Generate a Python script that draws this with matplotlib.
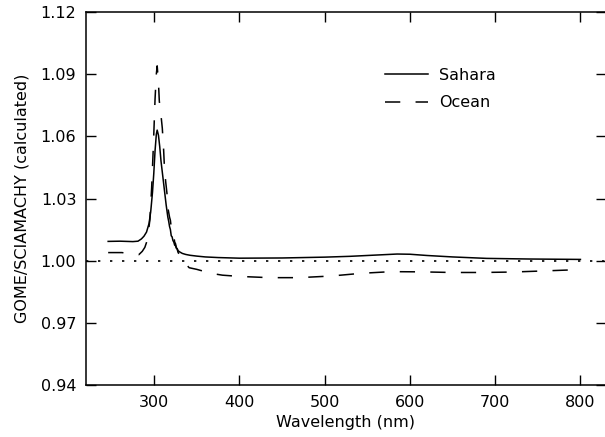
import matplotlib

matplotlib.use("Agg")
import matplotlib.pyplot as plt

# Sahara scene: GOME/SCIAMACHY ratio
sahara_wl = [246, 260, 275, 281, 285, 288, 291, 294, 296, 298, 299.5, 301, 302.5,
             303.5, 305, 306.5, 308, 310, 312, 314, 316, 317, 318, 319, 320, 321,
             322, 323, 324, 325, 326, 327, 328, 330, 333, 337, 342, 350, 360, 375,
             400, 450, 500, 530, 560, 585, 600, 620, 650, 690, 740, 800]
sahara_ratio = [1.0093, 1.0094, 1.0092, 1.0094, 1.0105, 1.0118, 1.0138, 1.0180,
                1.0240, 1.0330, 1.0420, 1.0530, 1.0610, 1.0630, 1.0605, 1.0550,
                1.0480, 1.0410, 1.0340, 1.0270, 1.0210, 1.0190, 1.0165, 1.0150,
                1.0120, 1.0115, 1.0097, 1.0090, 1.0075, 1.0072, 1.0060, 1.0058,
                1.0048, 1.0042, 1.0035, 1.0030, 1.0026, 1.0022, 1.0018, 1.0015,
                1.0012, 1.0013, 1.0017, 1.0021, 1.0027, 1.0032, 1.0031, 1.0025,
                1.0018, 1.0011, 1.0008, 1.0006]

# Ocean scene
ocean_wl = [246, 255, 262, 270, 278, 282, 286, 289, 292, 295, 297, 299, 301, 302.5,
            303.5, 305, 306, 308, 309.5, 311, 312, 313.5, 315, 316, 318, 319, 320,
            321, 322, 323, 324, 325, 326, 327, 328, 330, 332, 335, 338, 341, 350,
            357, 365, 380, 400, 435, 470, 508, 543, 578, 613, 649, 684, 719, 754, 800]
ocean_ratio = [1.0039, 1.0039, 1.0039, 1.0035, 1.0030, 1.0029, 1.0045, 1.0064,
               1.0100, 1.0200, 1.0350, 1.0550, 1.0780, 1.0900, 1.0940, 1.0860,
               1.0770, 1.0700, 1.0640, 1.0540, 1.0450, 1.0380, 1.0324, 1.0256,
               1.0210, 1.0195, 1.0160, 1.0150, 1.0130, 1.0118, 1.0090, 1.0082,
               1.0063, 1.0055, 1.0040, 1.0025, 1.0015, 0.9995, 0.9980, 0.9966,
               0.9958, 0.9950, 0.9940, 0.9930, 0.9924, 0.9918, 0.9918, 0.9926,
               0.9939, 0.9947, 0.9946, 0.9943, 0.9943, 0.9945, 0.9950, 0.9957]

x_ticks = [300, 400, 500, 600, 700, 800]
y_ticks = [0.94, 0.97, 1.00, 1.03, 1.06, 1.09, 1.12]

plt.rcParams["font.family"] = "DejaVu Sans"
plt.rcParams["font.size"] = 11.5

fig = plt.figure(figsize=(6.05, 4.37), dpi=100)
ax = fig.add_axes([86 / 605, 1 - 385 / 437, 520 / 605, 373 / 437])

ax.plot(sahara_wl, sahara_ratio, color="black", lw=1.1, label="Sahara")
ax.plot(ocean_wl, ocean_ratio, color="black", lw=1.1, dashes=(10, 10), label="Ocean")
ax.axhline(1.0, color="black", lw=1.2, dashes=(1.4, 5.8))

ax.set_xlim(220, 830)
ax.set_ylim(0.94, 1.12)
ax.set_xticks(x_ticks)
ax.set_yticks(y_ticks)
ax.set_yticklabels([f"{v:.2f}" for v in y_ticks])
ax.tick_params(direction="in", length=7, width=1, top=True, right=True, pad=7)
for s in ax.spines.values():
    s.set_linewidth(1.1)

ax.set_xlabel("Wavelength (nm)", labelpad=4)
ax.set_ylabel("GOME/SCIAMACHY (calculated)", labelpad=8)

ax.legend(loc="upper left", bbox_to_anchor=(0.563, 0.868), frameon=False,
          handlelength=2.7, handletextpad=0.7, labelspacing=0.8, borderaxespad=0)

fig.savefig("out.png", dpi=100)
